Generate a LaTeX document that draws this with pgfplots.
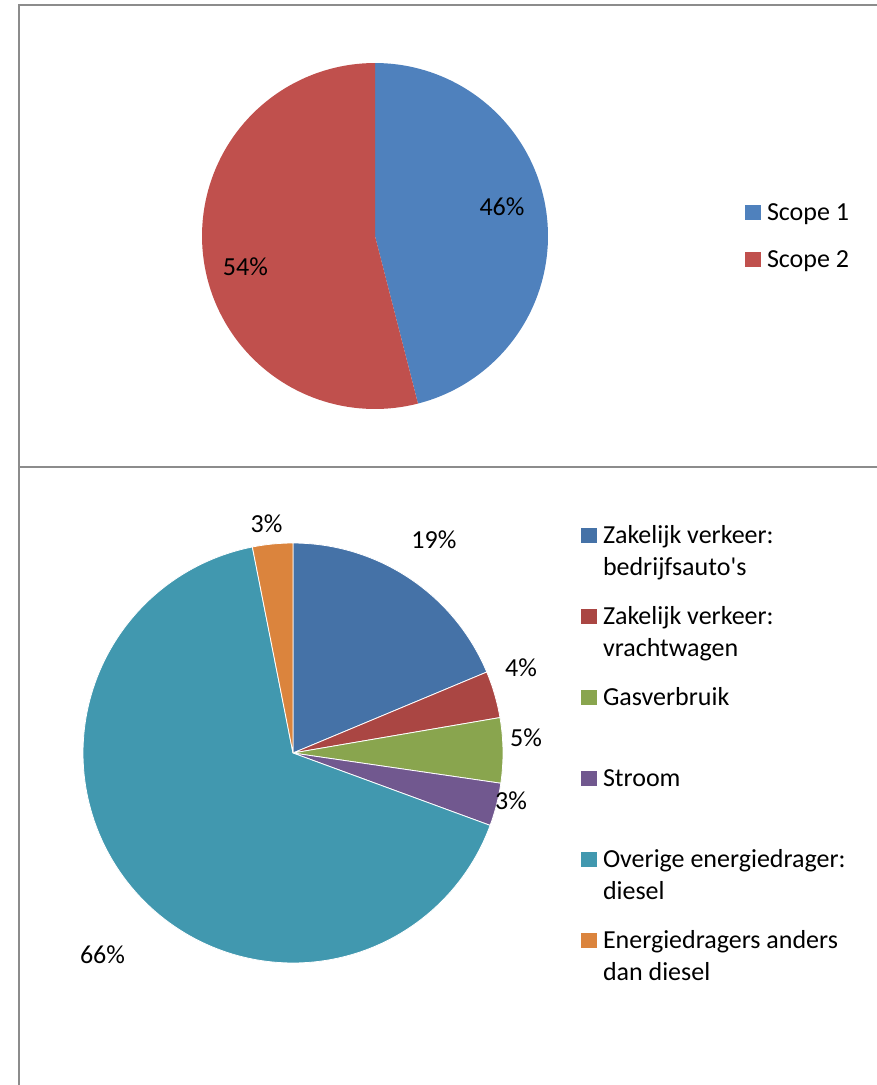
\documentclass[border=0pt]{standalone}
\usepackage{fontspec}
\setmainfont{Carlito}
\usepackage{pgfplots}
\pgfplotsset{compat=1.18}
\definecolor{frame}{HTML}{8C8C8C}
\definecolor{tBlue}{HTML}{4F81BD}
\definecolor{tRed}{HTML}{C0504D}
\definecolor{bBlue}{HTML}{4572A7}
\definecolor{bRed}{HTML}{AA4643}
\definecolor{bGreen}{HTML}{89A54E}
\definecolor{bPurple}{HTML}{71588F}
\definecolor{bTeal}{HTML}{4198AF}
\definecolor{bOrange}{HTML}{DB843D}
\pgfplotsset{
  pieaxis/.style={
    hide axis, scale only axis, clip=false, anchor=center,
    xmin=-1, xmax=1, ymin=-1, ymax=1,
    legend image code/.code={\fill[##1,draw=none] (0pt,0pt) rectangle (12pt,11.25pt);},
    legend style={draw=none, fill=none, inner sep=0pt, outer sep=0pt,
      column sep=4.5pt, row sep=0pt, anchor=north west,
      cells={anchor=base west},
      nodes={inner sep=0pt, outer sep=0pt, text depth={}}},
  },
}
\newcommand{\entT}[1]{\parbox[t][35.5pt][t]{150pt}{\strut #1}}
\newcommand{\entB}[1]{\parbox[t][60.8pt][t]{215pt}{\strut #1}}
\begin{document}
\fontsize{19.5}{24}\selectfont
\begin{tikzpicture}
\useasboundingbox (0,0) rectangle (657.75pt,-813.75pt);
% frame lines
\draw[frame, line width=1.3pt] (14.25pt,-813.75pt) -- (14.25pt,-3.6pt) -- (657.75pt,-3.6pt);
\draw[frame, line width=1.3pt] (14.25pt,-350pt) -- (657.75pt,-350pt);

% ---------------- top pie: Scope 1 = 46 %, Scope 2 = 54 %
\begin{axis}[pieaxis, width=259.5pt, height=259.5pt,
  at={(281.25pt,-177pt)},
  legend style={at={(1.5694,0.611)}}]
\addplot[fill=tBlue, draw=none, domain={90-3.6*46}:90, samples=90]
  ({cos(x)},{sin(x)}) -- (axis cs:0,0) -- cycle;
\addlegendentry{\entT{Scope 1}}
\addplot[fill=tRed, draw=none, domain={-270}:{90-3.6*46}, samples=100]
  ({cos(x)},{sin(x)}) -- (axis cs:0,0) -- cycle;
\addlegendentry{\entT{Scope 2}}
\node[anchor=base] at (axis cs:0.734,0.116) {46\%};
\node[anchor=base] at (axis cs:-0.749,-0.231) {54\%};
\end{axis}

% ---------------- bottom pie
% shares (%): 18.7, 3.6, 5.0, 3.3, 66.3, 3.1
\begin{axis}[pieaxis, width=315pt, height=315pt,
  at={(219.75pt,-564.75pt)},
  legend style={at={(1.1857,1.0533)}}]
\addplot[fill=bBlue, draw=white, line width=0.6pt, domain={90-3.6*18.7}:90, samples=60]
  ({cos(x)},{sin(x)}) -- (axis cs:0,0) -- cycle;
\addlegendentry{\entB{Zakelijk verkeer:\\bedrijfsauto\textquotesingle s}}
\addplot[fill=bRed, draw=white, line width=0.6pt, domain={90-3.6*22.3}:{90-3.6*18.7}, samples=20]
  ({cos(x)},{sin(x)}) -- (axis cs:0,0) -- cycle;
\addlegendentry{\entB{Zakelijk verkeer:\\vrachtwagen}}
\addplot[fill=bGreen, draw=white, line width=0.6pt, domain={90-3.6*27.3}:{90-3.6*22.3}, samples=20]
  ({cos(x)},{sin(x)}) -- (axis cs:0,0) -- cycle;
\addlegendentry{\entB{Gasverbruik}}
\addplot[fill=bPurple, draw=white, line width=0.6pt, domain={90-3.6*30.6}:{90-3.6*27.3}, samples=20]
  ({cos(x)},{sin(x)}) -- (axis cs:0,0) -- cycle;
\addlegendentry{\entB{Stroom}}
\addplot[fill=bTeal, draw=white, line width=0.6pt, domain={90-3.6*96.9}:{90-3.6*30.6}, samples=150]
  ({cos(x)},{sin(x)}) -- (axis cs:0,0) -- cycle;
\addlegendentry{\entB{Overige energiedrager:\\diesel}}
\addplot[fill=bOrange, draw=white, line width=0.6pt, domain={90-3.6*100}:{90-3.6*96.9}, samples=20]
  ({cos(x)},{sin(x)}) -- (axis cs:0,0) -- cycle;
\addlegendentry{\entB{Energiedragers anders\\dan diesel}}
\node[anchor=base] at (axis cs:0.671,0.976) {19\%};
\node[anchor=base] at (axis cs:1.086,0.362) {4\%};
\node[anchor=base] at (axis cs:1.110,0.029) {5\%};
\node[anchor=base] at (axis cs:1.038,-0.271) {3\%};
\node[anchor=base] at (axis cs:-0.907,-1.0) {66\%};
\node[anchor=base] at (axis cs:-0.126,1.052) {3\%};
\end{axis}
\end{tikzpicture}
\end{document}
